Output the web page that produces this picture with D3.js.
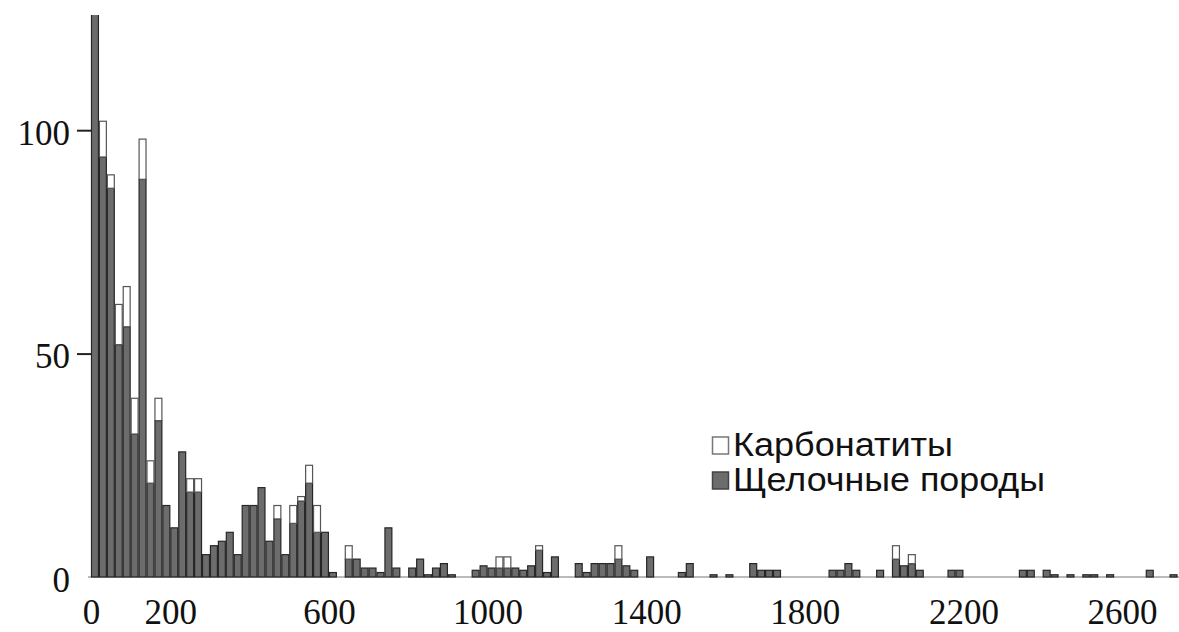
<!DOCTYPE html>
<html>
<head>
<meta charset="utf-8">
<script src="https://cdn.jsdelivr.net/npm/d3@7/dist/d3.min.js"></script>
<style>
  html, body { margin: 0; padding: 0; background: #fff; }
  svg { display: block; }
</style>
</head>
<body>
<svg id="chart" width="1179" height="632"></svg>
<script>
// Age histogram, 20 Ma bins: alkaline rocks (dark) with carbonatites stacked on top (open)
const binWidth = 20;
const ages = [
  0, 20, 40, 60, 80, 100, 120, 140, 160, 180,
  200, 220, 240, 260, 280, 300, 320, 340, 360, 380,
  400, 420, 440, 460, 480, 500, 520, 540, 560, 580,
  600, 640, 660, 680, 700, 720, 740, 760, 800, 820,
  840, 860, 880, 900, 960, 980, 1000, 1020, 1040, 1060,
  1080, 1100, 1120, 1140, 1160, 1220, 1240, 1260, 1280, 1300,
  1320, 1340, 1360, 1400, 1480, 1500, 1560, 1600, 1660, 1680,
  1700, 1720, 1860, 1880, 1900, 1920, 1980, 2020, 2040, 2060,
  2080, 2160, 2180, 2340, 2360, 2400, 2420, 2460, 2500, 2520,
  2560, 2660, 2720
];
const alkaline = [
  130, 94, 87, 52, 56, 32, 89, 21, 35, 16,
  11, 28, 19, 19, 5, 7, 8, 10, 5, 16,
  16, 20, 8, 13, 5, 12, 17, 21, 10, 10,
  1, 4, 4, 2, 2, 1, 11, 2, 2, 4,
  0.5, 2, 3, 0.5, 1.5, 2.5, 2, 2, 2, 2,
  1.5, 2.5, 6, 1, 4.5, 3, 1, 3, 3, 3,
  4, 2.5, 1.5, 4.5, 1, 3, 0.5, 0.5, 3, 1.5,
  1.5, 1.5, 1.5, 1.5, 3, 1.5, 1.5, 4, 2.5, 3,
  1.5, 1.5, 1.5, 1.5, 1.5, 1.5, 0.5, 0.5, 0.5, 0.5,
  0.5, 1.5, 0.5
];
const carbonatite = [
  0, 8, 3, 9, 9, 8, 9, 5, 5, 0,
  0, 0, 3, 3, 0, 0, 0, 0, 0, 0,
  0, 0, 0, 3, 0, 4, 1, 4, 6, 0,
  0, 3, 0, 0, 0, 0, 0, 0, 0, 0,
  0, 0, 0, 0, 0, 0, 0, 2.5, 2.5, 0,
  0, 0, 1, 0, 0, 0, 0, 0, 0, 0,
  3, 0, 0, 0, 0, 0, 0, 0, 0, 0,
  0, 0, 0, 0, 0, 0, 0, 3, 0, 2,
  0, 0, 0, 0, 0, 0, 0, 0, 0, 0,
  0, 0, 0
];
const seriesKeys = ["alkaline", "carbonatite"];
const legendLabels = ["Карбонатиты", "Щелочные породы"];
const xTickValues = [0, 200, 600, 1000, 1400, 1800, 2200, 2600];
const yTickValues = [0, 50, 100];

const rows = ages.map((a, i) => ({ age: a, alkaline: alkaline[i], carbonatite: carbonatite[i] }));

const plot = { left: 88, right: 1179, top: 15, bottom: 577 };

const x = d3.scaleLinear().domain([0, 2600]).range([91, 1122]);
const y = d3.scaleLinear().domain([0, 126]).range([577, 14]);

const svg = d3.select("#chart");

svg.append("defs").append("clipPath").attr("id", "plotClip")
  .append("rect")
  .attr("x", plot.left).attr("y", plot.top)
  .attr("width", plot.right - plot.left).attr("height", plot.bottom - plot.top + 2);

// baseline
svg.append("line")
  .attr("x1", plot.left).attr("x2", plot.right)
  .attr("y1", y(0)).attr("y2", y(0))
  .attr("stroke", "#777").attr("stroke-width", 1);

const stacked = d3.stack().keys(seriesKeys)(rows);
const fills = { alkaline: "#6c6c6c", carbonatite: "#ffffff" };
const strokes = { alkaline: "#262626", carbonatite: "#555555" };

const barsG = svg.append("g").attr("clip-path", "url(#plotClip)");
stacked.forEach(layer => {
  barsG.append("g")
    .selectAll("rect")
    .data(layer.filter(d => d[1] - d[0] > 0))
    .join("rect")
    .attr("x", d => x(d.data.age) + 0.5)
    .attr("width", d => x(d.data.age + binWidth) - x(d.data.age) - 1)
    .attr("y", d => y(d[1]))
    .attr("height", d => y(d[0]) - y(d[1]))
    .attr("fill", fills[layer.key])
    .attr("stroke", strokes[layer.key])
    .attr("stroke-width", 1.2);
});

// y axis
const yAxis = svg.append("g")
  .attr("transform", `translate(${x(0)},0)`)
  .call(d3.axisLeft(y).tickValues(yTickValues).tickSize(14).tickPadding(7).tickFormat(d3.format("d")));
yAxis.select(".domain").remove();
yAxis.selectAll(".tick line")
  .attr("stroke", "#222").attr("stroke-width", 2)
  .attr("display", d => d === 0 ? "none" : null);
yAxis.selectAll(".tick text")
  .attr("dy", "0.4em")
  .attr("font-family", "'Liberation Serif', 'Times New Roman', serif")
  .attr("font-size", 35).attr("fill", "#111");

// x axis
const xAxis = svg.append("g")
  .attr("transform", `translate(0,${y(0)})`)
  .call(d3.axisBottom(x).tickValues(xTickValues).tickSize(0).tickPadding(22).tickFormat(d3.format("d")));
xAxis.select(".domain").remove();
xAxis.selectAll(".tick text")
  .attr("font-family", "'Liberation Serif', 'Times New Roman', serif")
  .attr("font-size", 35).attr("fill", "#111");

// legend
const legend = svg.append("g").attr("transform", "translate(712,0)");
const legendItems = [
  { label: legendLabels[0], key: "carbonatite", y: 456 },
  { label: legendLabels[1], key: "alkaline", y: 491 }
];
legendItems.forEach(item => {
  legend.append("rect")
    .attr("x", 0.5).attr("y", item.y - 19)
    .attr("width", 16).attr("height", 17)
    .attr("fill", fills[item.key])
    .attr("stroke", item.key === "alkaline" ? "#444" : "#777")
    .attr("stroke-width", 1.5);
  legend.append("text")
    .attr("x", 21).attr("y", item.y)
    .attr("font-family", "'Liberation Sans', Arial, sans-serif")
    .attr("font-size", 33).attr("fill", "#111")
    .attr("textLength", item.key === "alkaline" ? 312 : 220)
    .attr("lengthAdjust", "spacingAndGlyphs")
    .text(item.label);
});
</script>
</body>
</html>
